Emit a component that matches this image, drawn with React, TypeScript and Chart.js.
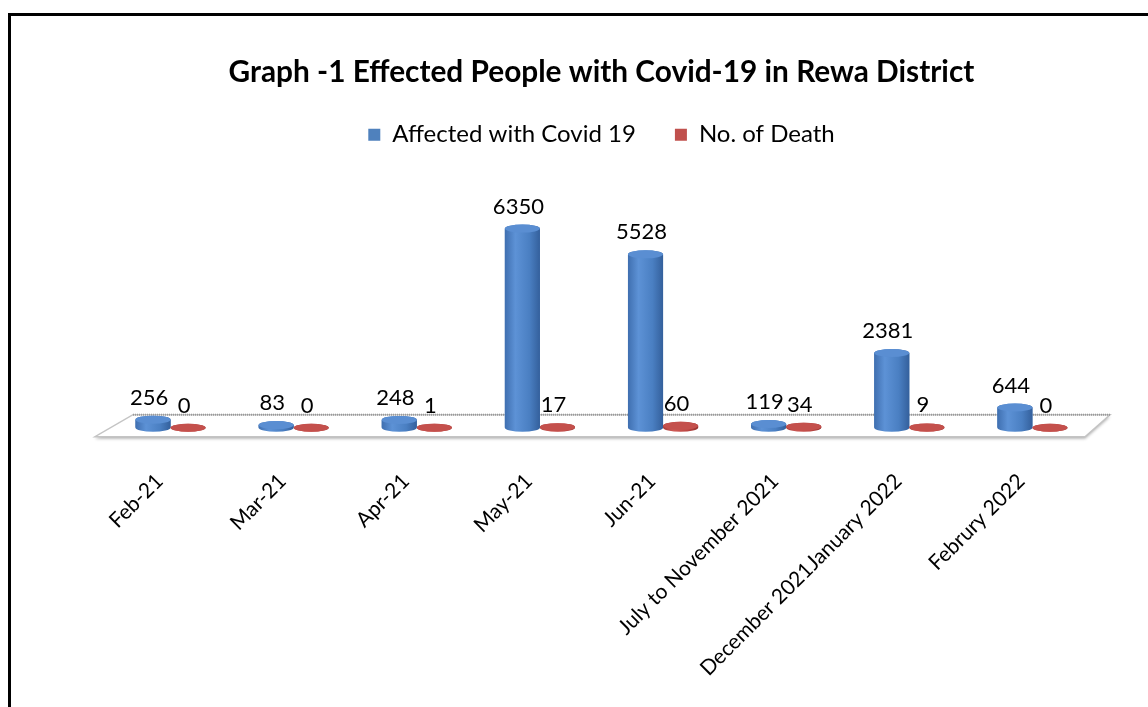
import React, { useEffect, useRef } from 'react';
import { Chart, registerables } from 'chart.js';

Chart.register(...registerables);

const categories = [
  'Feb-21',
  'Mar-21',
  'Apr-21',
  'May-21',
  'Jun-21',
  'July to November 2021',
  'December 2021January 2022',
  'Februry 2022',
];
const affected = [256, 83, 248, 6350, 5528, 119, 2381, 644];
const deaths = [0, 0, 1, 17, 60, 34, 9, 0];
const seriesNames = ['Affected with Covid 19', 'No. of Death'];
const titleText = 'Graph -1 Effected People with Covid-19 in Rewa District';

const FONT = 'Lato, "Open Sans", sans-serif';

const palettes = [
  { stops: ['#3f6fb0', '#5d92d6', '#4a7fc2', '#34609c'], cap: '#5a8ed2', solid: '#4f81bd' },
  { stops: ['#a63c39', '#cf5a56', '#bb4643', '#93302e'], cap: '#c4504c', solid: '#c0504d' },
];

const floorPlugin = {
  id: 'floor3d',
  beforeDatasetsDraw(chart: any) {
    const { ctx, chartArea } = chart;
    const { left, right, bottom } = chartArea;
    ctx.save();
    ctx.beginPath();
    ctx.moveTo(left - 14, bottom + 9);
    ctx.lineTo(right - 9, bottom + 9);
    ctx.lineTo(right + 16, bottom - 13);
    ctx.lineTo(left + 24, bottom - 13);
    ctx.closePath();
    ctx.fillStyle = '#ffffff';
    ctx.shadowColor = 'rgba(0,0,0,0.3)';
    ctx.shadowBlur = 3;
    ctx.shadowOffsetY = 2;
    ctx.fill();
    ctx.shadowColor = 'transparent';
    ctx.strokeStyle = '#c4c4c4';
    ctx.lineWidth = 1.5;
    ctx.stroke();
    ctx.setLineDash([1, 1]);
    ctx.strokeStyle = '#9a9a9a';
    ctx.lineWidth = 2;
    ctx.beginPath();
    ctx.moveTo(left + 24, bottom - 13);
    ctx.lineTo(right + 16, bottom - 13);
    ctx.stroke();
    ctx.restore();
  },
};

const cylinderPlugin = {
  id: 'cylinders',
  afterDatasetsDraw(chart: any) {
    const { ctx } = chart;
    ctx.save();
    chart.data.datasets.forEach((ds: any, di: number) => {
      const meta = chart.getDatasetMeta(di);
      const pal = palettes[di];
      meta.data.forEach((el: any, i: number) => {
        const { x, y, base, width } = el.getProps(['x', 'y', 'base', 'width'], true);
        const rx = width / 2;
        const ry = 4;
        const g = ctx.createLinearGradient(x - rx, 0, x + rx, 0);
        g.addColorStop(0, pal.stops[0]);
        g.addColorStop(0.3, pal.stops[1]);
        g.addColorStop(0.7, pal.stops[2]);
        g.addColorStop(1, pal.stops[3]);
        ctx.fillStyle = g;
        ctx.beginPath();
        ctx.moveTo(x - rx, y);
        ctx.lineTo(x - rx, base);
        ctx.ellipse(x, base, rx, ry, 0, Math.PI, 0, true);
        ctx.lineTo(x + rx, y);
        ctx.ellipse(x, y, rx, ry, 0, 0, Math.PI, true);
        ctx.closePath();
        ctx.fill();
        ctx.beginPath();
        ctx.ellipse(x, y, rx, ry, 0, 0, Math.PI * 2);
        ctx.fillStyle = pal.cap;
        ctx.fill();
        ctx.fillStyle = '#000';
        ctx.font = `22px ${FONT}`;
        ctx.textAlign = 'center';
        ctx.textBaseline = 'alphabetic';
        ctx.fillText(String(ds.data[i]), x - 4, y - 15);
      });
    });
    ctx.restore();
  },
};

export default function App() {
  const ref = useRef<HTMLCanvasElement>(null);
  useEffect(() => {
    if (!ref.current) return;
    const chart = new Chart(ref.current, {
      type: 'bar',
      data: {
        labels: categories,
        datasets: [
          {
            label: seriesNames[0],
            data: affected,
            backgroundColor: palettes[0].solid,
            categoryPercentage: 0.57,
            barPercentage: 1.0,
          },
          {
            label: seriesNames[1],
            data: deaths,
            backgroundColor: palettes[1].solid,
            categoryPercentage: 0.57,
            barPercentage: 1.0,
          },
        ],
      },
      options: {
        responsive: false,
        animation: false,
        devicePixelRatio: 1,
        layout: { padding: { left: 109, right: 54, top: 0, bottom: 1 } },
        plugins: {
          title: {
            display: true,
            text: titleText,
            color: '#000',
            font: { family: FONT, size: 29.8, weight: 'bold' },
            padding: { top: 55, bottom: -7 },
          },
          legend: {
            labels: {
              color: '#000',
              font: { family: FONT, size: 24 },
              boxWidth: 12,
              boxHeight: 12,
              padding: 39,
            },
          },
          tooltip: { enabled: false },
        },
        scales: {
          x: {
            grid: { display: false },
            border: { display: false },
            ticks: {
              color: '#000',
              font: { family: FONT, size: 21 },
              minRotation: 45,
              maxRotation: 45,
              autoSkip: false,
              padding: 33,
              labelOffset: -11,
            },
          },
          y: { display: false, min: 0, max: 8640 },
        },
      },
      plugins: [floorPlugin, cylinderPlugin],
    } as any);
    return () => chart.destroy();
  }, []);

  return (
    <div style={{ position: 'fixed', left: 0, top: 0, width: 1148, height: 707, background: '#fff', overflow: 'hidden' }}>
      <canvas ref={ref} width={1148} height={715} style={{ position: 'absolute', left: 0, top: 0, width: 1148, height: 715 }} />
      <div
        style={{
          position: 'absolute',
          left: 8,
          top: 13,
          width: 1200,
          height: 800,
          borderLeft: '3px solid #000',
          borderTop: '3px solid #000',
          pointerEvents: 'none',
        }}
      />
    </div>
  );
}
